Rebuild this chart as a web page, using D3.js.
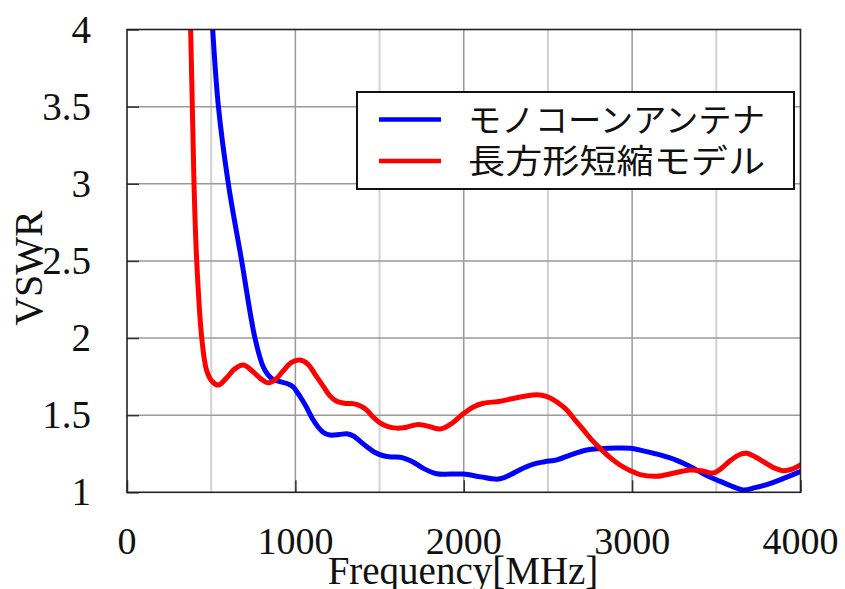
<!DOCTYPE html>
<html>
<head>
<meta charset="utf-8">
<script src="https://cdn.jsdelivr.net/npm/d3@7"></script>
<style>
  html, body { margin: 0; padding: 0; background: #fff; }
  svg { display: block; }
</style>
</head>
<body>
<svg id="chart" width="845" height="589"></svg>
<script>
// VSWR vs. frequency for two antenna models
const seriesNames = ["モノコーンアンテナ", "長方形短縮モデル"];
const seriesColors = ["#0000ff", "#ff0000"];

// [frequency MHz, VSWR]
const monoconeVSWR = [
  [495,4.3],[509,4.0],[543,3.5],[602,3.0],[681,2.5],[760,2.0],[810,1.81],[839,1.76],
  [870,1.73],[909,1.717],[950,1.705],[987,1.684],[1010,1.65],[1040,1.60],[1067,1.55],
  [1100,1.48],[1137,1.42],[1170,1.385],[1206,1.371],[1260,1.374],[1305,1.38],[1345,1.365],
  [1385,1.33],[1424,1.296],[1470,1.26],[1523,1.237],[1570,1.229],[1622,1.227],[1660,1.215],
  [1701,1.195],[1760,1.155],[1840,1.12],[1920,1.118],[1998,1.118],[2100,1.10],[2196,1.085],
  [2240,1.095],[2280,1.115],[2340,1.15],[2414,1.183],[2480,1.198],[2553,1.21],[2640,1.245],
  [2731,1.274],[2810,1.283],[2909,1.287],[2988,1.285],[3080,1.265],[3166,1.242],[3265,1.207],
  [3330,1.175],[3384,1.144],[3440,1.11],[3503,1.08],[3580,1.045],[3661,1.015],[3730,1.03],
  [3800,1.05],[3900,1.09],[3998,1.134]
];

const rectShortVSWR = [
  [365,4.6],[378,4.0],[388,3.5],[398,3.0],[414,2.5],[444,2.0],[473,1.79],[505,1.72],
  [542,1.695],[590,1.74],[640,1.80],[691,1.825],[740,1.79],[790,1.74],[839,1.71],[880,1.73],
  [930,1.79],[975,1.84],[1028,1.857],[1075,1.83],[1120,1.76],[1166,1.686],[1205,1.625],
  [1245,1.59],[1300,1.576],[1344,1.575],[1390,1.558],[1424,1.533],[1460,1.49],[1503,1.45],
  [1550,1.425],[1602,1.416],[1660,1.422],[1731,1.44],[1800,1.425],[1859,1.41],[1920,1.44],
  [1998,1.51],[2060,1.555],[2117,1.577],[2216,1.59],[2300,1.61],[2414,1.631],[2470,1.628],
  [2513,1.612],[2560,1.58],[2612,1.533],[2660,1.47],[2711,1.404],[2760,1.34],[2810,1.285],
  [2870,1.225],[2928,1.177],[2990,1.14],[3047,1.115],[3146,1.104],[3250,1.125],[3344,1.145],
  [3420,1.138],[3482,1.125],[3530,1.155],[3582,1.205],[3640,1.245],[3681,1.253],[3730,1.23],
  [3780,1.198],[3840,1.16],[3899,1.14],[3950,1.15],[4000,1.177]
];

const xTicks = [0, 1000, 2000, 3000, 4000];
const xMinorGrid = [500, 1500, 2500, 3500];
const yTicks = [1, 1.5, 2, 2.5, 3, 3.5, 4];
const xTitle = "Frequency[MHz]";
const yTitle = "VSWR";

const svg = d3.select("#chart");
const plot = { left: 127, right: 800.5, top: 29.5, bottom: 492.3 };

const x = d3.scaleLinear().domain([0, 4000]).range([plot.left, plot.right]);
const y = d3.scaleLinear().domain([1, 4]).range([plot.bottom, plot.top]);

const serif = "'Liberation Serif', 'Times New Roman', serif";

// grid
svg.append("g").selectAll("line.minor").data(xMinorGrid).join("line")
  .attr("x1", d => x(d)).attr("x2", d => x(d))
  .attr("y1", plot.top).attr("y2", plot.bottom)
  .attr("stroke", "#d2d2d2").attr("stroke-width", 2);
svg.append("g").selectAll("line.major").data(xTicks.slice(1, -1)).join("line")
  .attr("x1", d => x(d)).attr("x2", d => x(d))
  .attr("y1", plot.top).attr("y2", plot.bottom)
  .attr("stroke", "#9a9a9a").attr("stroke-width", 1.5);
svg.append("g").selectAll("line.h").data(yTicks.slice(1, -1)).join("line")
  .attr("x1", plot.left).attr("x2", plot.right)
  .attr("y1", d => y(d)).attr("y2", d => y(d))
  .attr("stroke", "#9a9a9a").attr("stroke-width", 1.5);

// inward ticks via d3 axes
const yAxis = svg.append("g").attr("transform", `translate(${plot.left},0)`)
  .call(d3.axisRight(y).tickValues(yTicks).tickSize(12).tickFormat(""));
const xAxis = svg.append("g").attr("transform", `translate(0,${plot.bottom})`)
  .call(d3.axisTop(x).tickValues(xTicks).tickSize(12).tickFormat(""));
[yAxis, xAxis].forEach(g => {
  g.select(".domain").remove();
  g.selectAll(".tick line").attr("stroke", "#333").attr("stroke-width", 1.5);
});

// series
svg.append("clipPath").attr("id", "plotClip").append("rect")
  .attr("x", plot.left).attr("y", plot.top)
  .attr("width", plot.right - plot.left).attr("height", plot.bottom - plot.top);

const line = d3.line()
  .x(d => x(d[0])).y(d => y(d[1]))
  .curve(d3.curveCatmullRom.alpha(0.5));

const seriesData = [monoconeVSWR, rectShortVSWR];
svg.append("g").attr("clip-path", "url(#plotClip)")
  .selectAll("path").data(seriesData).join("path")
  .attr("d", line)
  .attr("fill", "none")
  .attr("stroke", (d, i) => seriesColors[i])
  .attr("stroke-width", 5)
  .attr("stroke-linejoin", "round")
  .attr("stroke-linecap", "round");

// frame
svg.append("rect")
  .attr("x", plot.left).attr("y", plot.top)
  .attr("width", plot.right - plot.left).attr("height", plot.bottom - plot.top)
  .attr("fill", "none").attr("stroke", "#222").attr("stroke-width", 1.6);

// tick labels
svg.append("g").selectAll("text").data(yTicks).join("text")
  .attr("x", 91).attr("y", d => y(d) + 13)
  .attr("text-anchor", "end")
  .attr("font-family", serif).attr("font-size", 39)
  .attr("fill", "#111")
  .text(d => d);

svg.append("g").selectAll("text").data(xTicks).join("text")
  .attr("x", d => x(d)).attr("y", 554)
  .attr("text-anchor", "middle")
  .attr("font-family", serif).attr("font-size", 38)
  .attr("fill", "#111")
  .text(d => d);

// axis titles
svg.append("text")
  .attr("x", 463).attr("y", 584)
  .attr("text-anchor", "middle")
  .attr("font-family", serif).attr("font-size", 39)
  .attr("fill", "#111")
  .text(xTitle);

svg.append("text")
  .attr("transform", "translate(42,268) rotate(-90)")
  .attr("text-anchor", "middle")
  .attr("font-family", serif).attr("font-size", 40)
  .attr("fill", "#111")
  .text(yTitle);

// legend
const legend = svg.append("g");
legend.append("rect")
  .attr("x", 357).attr("y", 92).attr("width", 437).attr("height", 97)
  .attr("fill", "#fff").attr("stroke", "#111").attr("stroke-width", 2);
const legendRows = [119.5, 161];
seriesNames.forEach((name, i) => {
  legend.append("line")
    .attr("x1", 379).attr("x2", 441)
    .attr("y1", legendRows[i]).attr("y2", legendRows[i])
    .attr("stroke", seriesColors[i]).attr("stroke-width", 4.5);
  legend.append("text")
    .attr("x", 468).attr("y", legendRows[i] + 12)
    .attr("font-family", "'Noto Sans CJK JP', sans-serif")
    .attr("font-size", 33)
    .attr("textLength", 297).attr("lengthAdjust", "spacingAndGlyphs")
    .attr("fill", "#111")
    .text(name);
});
</script>
</body>
</html>
